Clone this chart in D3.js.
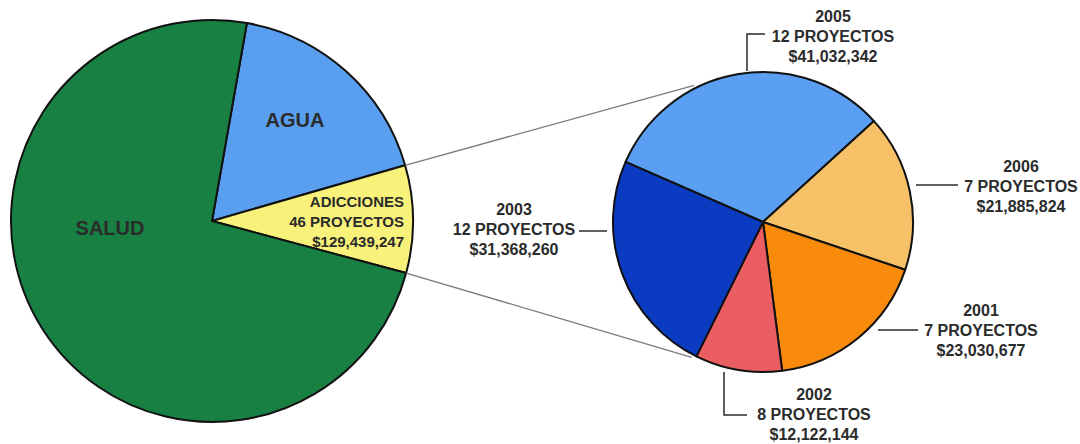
<!DOCTYPE html>
<html>
<head>
<meta charset="utf-8">
<script src="https://cdn.jsdelivr.net/npm/d3@7"></script>
<style>
  body { margin: 0; background: #fff; }
  svg text { font-family: "Liberation Sans", Arial, sans-serif; font-weight: bold; fill: #2b2b2b; }
</style>
</head>
<body>
<svg id="chart" width="1080" height="444"></svg>
<script>
"use strict";

// left pie: program areas (AGUA / SALUD amounts)
const areaNames = ["AGUA", "ADICCIONES", "SALUD"];
const areaValues = [266000000, 129439247, 1103000000];
const areaColors = ["#5a9ef0", "#f8f27a", "#178042"];

// right pie: ADICCIONES by year
const yearNames = ["2005", "2006", "2001", "2002", "2003"];
const yearProjects = [12, 7, 7, 8, 12];
const yearValues = [41032342, 21885824, 23030677, 12122144, 31368260];
const yearColors = ["#5a9ff2", "#f7c167", "#f88b0c", "#ea5d61", "#0a3bc0"];

let svg = d3.select("#chart");
let fmt = d3.format("$,");
let deg = Math.PI / 180;

let left = { cx: 212, cy: 221, r: 201 };
let right = { cx: 763, cy: 222, r: 150 };

// ---- left pie
let leftPie = d3.pie().sort(null).startAngle(10 * deg).endAngle(370 * deg);
let leftArcs = leftPie(areaValues);
let leftArc = d3.arc().innerRadius(0).outerRadius(left.r);

let gl = svg.append("g").attr("transform", `translate(${left.cx},${left.cy})`);
gl.selectAll("path").data(leftArcs).enter().append("path")
  .attr("d", leftArc)
  .style("fill", (d, i) => areaColors[i])
  .style("stroke", "#111").style("stroke-width", 2).style("stroke-linejoin", "round");

// ---- connector lines from the ADICCIONES slice edges to the right pie
let adi = leftArcs[1];
[adi.startAngle, adi.endAngle].forEach((a, k) => {
  let px = left.cx + left.r * Math.sin(a), py = left.cy - left.r * Math.cos(a);
  let dx = right.cx - px, dy = right.cy - py;
  let d = Math.sqrt(dx * dx + dy * dy);
  let off = Math.asin(right.r / d) * (k === 0 ? -1 : 1);
  let dir = Math.atan2(dy, dx) + off;
  let len = Math.sqrt(d * d - right.r * right.r) - 30;
  svg.append("line")
    .attr("x1", px).attr("y1", py)
    .attr("x2", px + len * Math.cos(dir)).attr("y2", py + len * Math.sin(dir))
    .style("stroke", "#7a7a7a").style("stroke-width", 1.3);
});

// left labels
svg.append("text").attr("x", 295).attr("y", 127).attr("text-anchor", "middle")
  .style("font-size", "20px").text(areaNames[0]);
svg.append("text").attr("x", 110).attr("y", 235).attr("text-anchor", "middle")
  .style("font-size", "20px").text(areaNames[2]);
let adiText = svg.append("text").attr("text-anchor", "end").style("font-size", "15px");
[areaNames[1], "46 PROYECTOS", fmt(areaValues[1])].forEach((t, i) => {
  adiText.append("tspan").attr("x", 404).attr("y", 207 + i * 20).text(t);
});

// ---- right pie
let rightPie = d3.pie().sort(null).startAngle(-66.4 * deg).endAngle(293.6 * deg);
let rightArcs = rightPie(yearValues);
let rightArc = d3.arc().innerRadius(0).outerRadius(right.r);

let gr = svg.append("g").attr("transform", `translate(${right.cx},${right.cy})`);
gr.selectAll("path").data(rightArcs).enter().append("path")
  .attr("d", rightArc)
  .style("fill", (d, i) => yearColors[i])
  .style("stroke", "#111").style("stroke-width", 2).style("stroke-linejoin", "round");

// label positions and leader lines (pixel layout, not data)
let labelLayout = [
  { x: 833, y: 22, leader: [[747, 71], [747, 34], [765, 34]] },
  { x: 1021, y: 172, leader: [[916, 185], [958, 185]] },
  { x: 981, y: 316, leader: [[878, 330], [918, 330]] },
  { x: 814, y: 400, leader: [[724, 372], [724, 415], [747, 415]] },
  { x: 514, y: 215, leader: [[579, 231], [607, 231]] }
];

yearNames.forEach((name, i) => {
  let lay = labelLayout[i];
  svg.append("path")
    .attr("d", d3.line()(lay.leader))
    .style("fill", "none").style("stroke", "#2b2b2b").style("stroke-width", 1.5);
  let t = svg.append("text").attr("text-anchor", "middle").style("font-size", "16px");
  [name, `${yearProjects[i]} PROYECTOS`, fmt(yearValues[i])].forEach((s, j) => {
    t.append("tspan").attr("x", lay.x).attr("y", lay.y + j * 20).text(s);
  });
});
</script>
</body>
</html>
